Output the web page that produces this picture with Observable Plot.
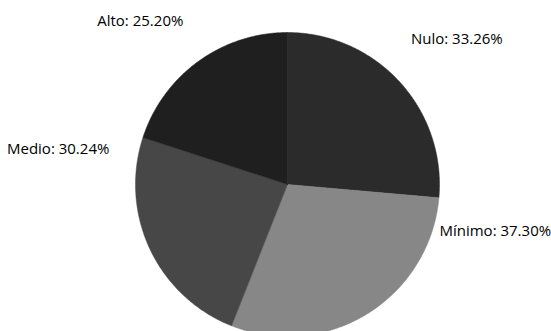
<!DOCTYPE html>
<html>
<head>
<meta charset="utf-8">
<script src="https://cdn.jsdelivr.net/npm/d3@7"></script>
<script src="https://cdn.jsdelivr.net/npm/@observablehq/plot@0.6"></script>
<style>
  html, body { margin: 0; padding: 0; background: #fff; }
  #chart { width: 551px; height: 331px; }
</style>
</head>
<body>
<div id="chart"></div>
<script>
// Data
const categories = ["Nulo", "Mínimo", "Medio", "Alto"];
const values = [33.26, 37.30, 30.24, 25.20];

// Styles (separate from data)
const colors = ["#2b2b2b", "#878787", "#474747", "#1f1f1f"];
// Label placement (angle in degrees clockwise from top, distance from pie center)
const labelAngle = [49.4, 102.7, 278.7, 318];
const labelDist = [223, 213, 232, 220];

const W = 551, H = 331;
const cx = 287, cy = 184, R = 152;

const pie = d3.pie().sort(null).value(d => d)(values);

const slices = pie.map((p, i) => {
  const pts = [{x: 0, y: 0}];
  const n = Math.max(2, Math.ceil((p.endAngle - p.startAngle) / (Math.PI / 360)));
  for (let k = 0; k <= n; k++) {
    const a = p.startAngle + (p.endAngle - p.startAngle) * k / n;
    pts.push({x: R * Math.sin(a), y: R * Math.cos(a)});
  }
  pts.push({x: 0, y: 0});
  return pts;
});

const labels = categories.map((c, i) => {
  const a = labelAngle[i] * Math.PI / 180;
  return {
    text: `${c}: ${values[i].toFixed(2)}%`,
    x: labelDist[i] * Math.sin(a),
    y: labelDist[i] * Math.cos(a)
  };
});

const marks = slices.map((pts, i) =>
  Plot.line(pts, {x: "x", y: "y", fill: colors[i], stroke: colors[i], strokeWidth: 0.5, curve: "linear"})
);
marks.push(
  Plot.text(labels, {
    x: "x", y: "y", text: "text",
    textAnchor: "middle", lineAnchor: "middle",
    fontSize: 15, fill: "#000"
  })
);

const chart = Plot.plot({
  width: W,
  height: H,
  margin: 0,
  style: {fontFamily: "'Open Sans', sans-serif", background: "#fff"},
  x: {domain: [-cx, W - cx], axis: null},
  y: {domain: [-(H - cy), cy], axis: null},
  marks
});
document.getElementById("chart").appendChild(chart);
</script>
</body>
</html>
